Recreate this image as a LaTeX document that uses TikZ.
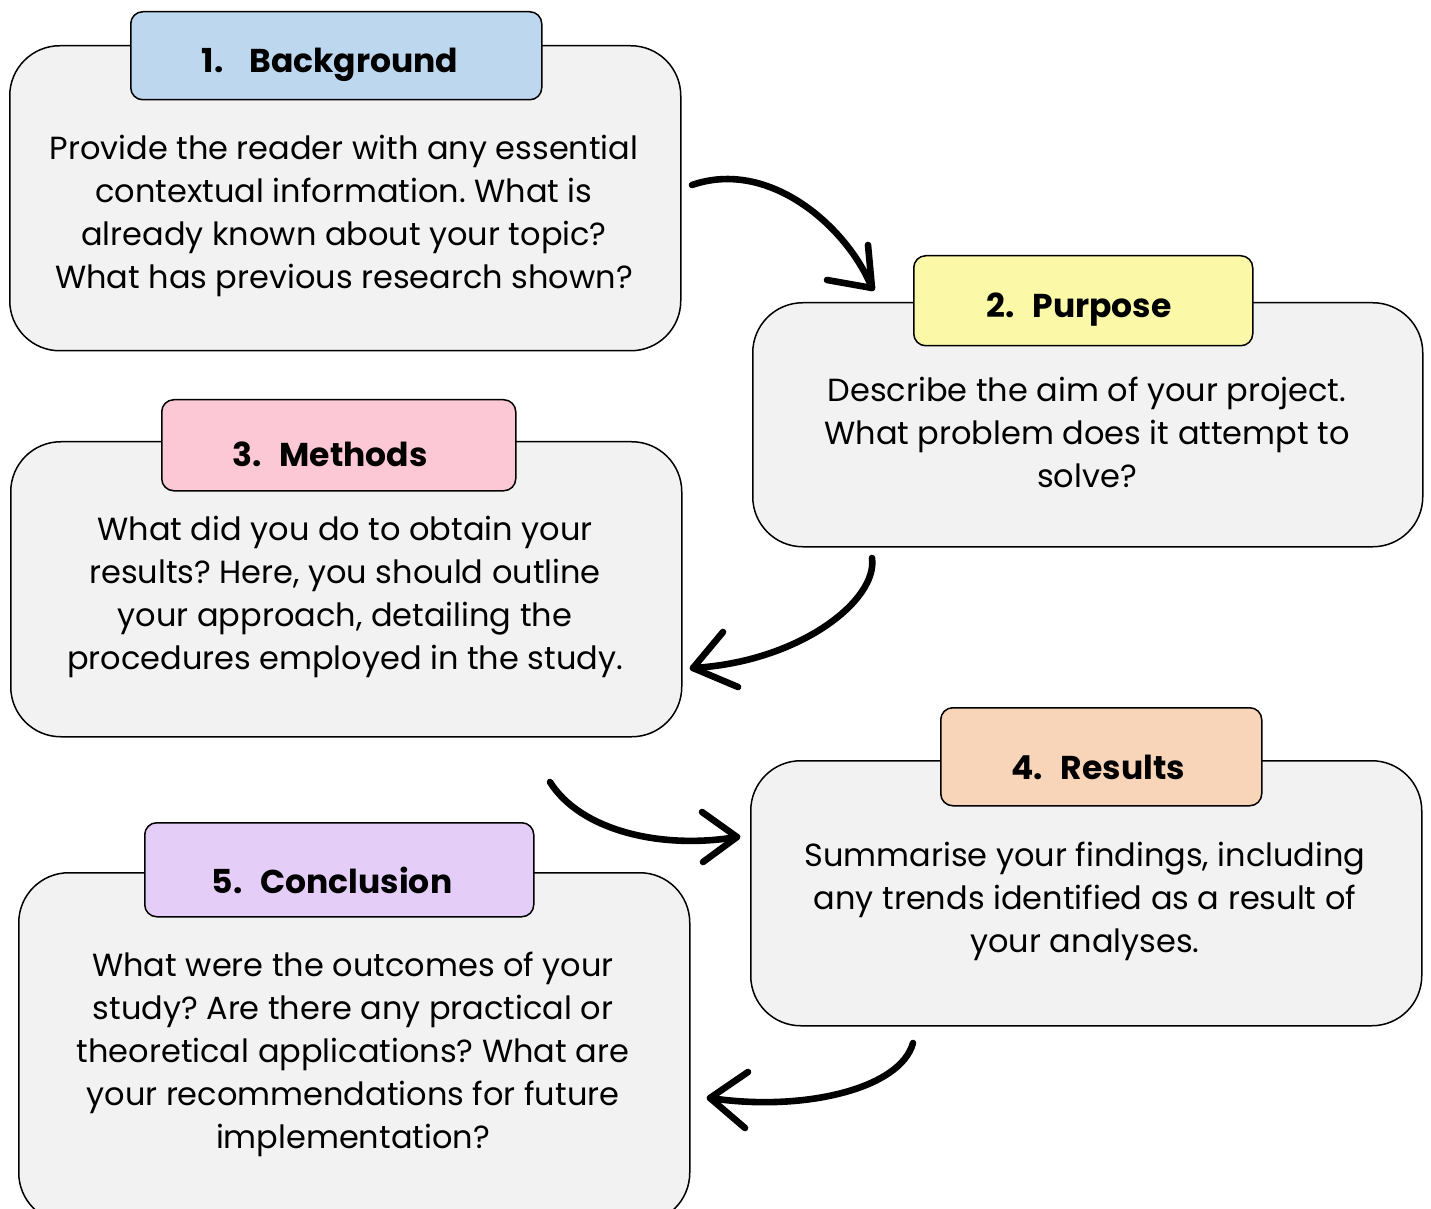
\documentclass[tikz,border=0pt]{standalone}
\usepackage{fontspec}
\setmainfont{Poppins}
\frenchspacing
\definecolor{bodygray}{HTML}{F2F2F2}
\definecolor{hblue}{HTML}{BDD7EE}
\definecolor{hyellow}{HTML}{FBF8A7}
\definecolor{hpink}{HTML}{FCC8D6}
\definecolor{hpeach}{HTML}{F8D4B9}
\definecolor{hlav}{HTML}{E4CDF6}
\begin{document}
\begin{tikzpicture}[x=0.5pt,y=-0.5pt,
  mainbox/.style={draw=black, line width=0.75pt, fill=bodygray, rounded corners=25pt, inner sep=0pt, anchor=north west},
  headbox/.style={draw=black, line width=0.75pt, rounded corners=6pt, inner sep=0pt, anchor=north west},
  titletext/.style={inner sep=0pt, font=\bfseries\fontsize{16.5}{19}\selectfont},
  bodytext/.style={align=center, font=\frenchspacing\fontsize{16}{21.5}\selectfont, inner sep=0pt},
  handarrow/.style={line width=3.3pt, line cap=round, line join=round}]
\clip (0,0) rectangle (1431,1209);
\fill[white] (0,0) rectangle (1431,1209);
% main boxes
\node[mainbox, minimum width=335.5pt, minimum height=152.5pt] (m1) at (9,45) {};
\node[mainbox, minimum width=335pt, minimum height=122pt] (m2) at (752,302) {};
\node[mainbox, minimum width=335.5pt, minimum height=147.5pt] (m3) at (10,441) {};
\node[mainbox, minimum width=335.5pt, minimum height=132.5pt] (m4) at (750,760) {};
\node[mainbox, minimum width=335.5pt, minimum height=175pt] (m5) at (18,872) {};
% headers
\node[headbox, fill=hblue, minimum width=205.5pt, minimum height=44pt] (h1) at (130,11) {};
\node[headbox, fill=hyellow, minimum width=169.5pt, minimum height=45pt] (h2) at (913,255) {};
\node[headbox, fill=hpink, minimum width=177pt, minimum height=45.5pt] (h3) at (161,399) {};
\node[headbox, fill=hpeach, minimum width=160.5pt, minimum height=49pt] (h4) at (940,707) {};
\node[headbox, fill=hlav, minimum width=194.5pt, minimum height=47pt] (h5) at (144,822) {};
% titles
\node[titletext] (ti1) at (330,65) {1.\hspace{13pt}Background};
\node[titletext] (ti2) at (1079,310) {2.\hspace{9pt}Purpose};
\node[titletext] (ti3) at (330,454) {3.\hspace{9pt}Methods};
\node[titletext] (ti4) at (1098,767) {4.\hspace{9pt}Results};
\node[titletext] (ti5) at (332,880) {5.\hspace{9pt}Conclusion};
% body texts
\node[bodytext] (t1) at (344,216) {Provide the reader with any essential\\contextual information. What is\\already known about your topic?\\What has previous research shown?};
\node[bodytext] (t2) at (1087,432) {Describe the aim of your project.\\What problem does it attempt to\\solve?};
\node[bodytext] (t3) at (345,597) {What did you do to obtain your\\results? Here, you should outline\\your approach, detailing the\\procedures employed in the study.};
\node[bodytext] (t4) at (1085,901) {Summarise your findings, including\\any trends identified as a result of\\your analyses.};
\node[bodytext] (t5) at (353,1054) {What were the outcomes of your\\study? Are there any practical or\\theoretical applications? What are\\your recommendations for future\\implementation?};
% arrow coordinates
\coordinate (a1s) at (692,185); \coordinate (a1t) at (872,288);
\coordinate (a1l) at (827,280); \coordinate (a1r) at (868,245);
\coordinate (a2s) at (872,558); \coordinate (a2t) at (693,668);
\coordinate (a2l) at (723,632); \coordinate (a2r) at (738,687);
\coordinate (a3s) at (550,782); \coordinate (a3t) at (737,837);
\coordinate (a3l) at (702,812); \coordinate (a3r) at (703,862);
\coordinate (a4s) at (913,1043); \coordinate (a4t) at (710,1098);
\coordinate (a4l) at (748,1072); \coordinate (a4r) at (745,1128);
% arrows
\draw[handarrow] (a1s) .. controls (770,158) and (848,228) .. (a1t);
\draw[handarrow] (a1l) -- (a1t) -- (a1r);
\draw[handarrow] (a2s) .. controls (878,600) and (800,662) .. (a2t);
\draw[handarrow] (a2l) -- (a2t) -- (a2r);
\draw[handarrow] (a3s) .. controls (580,830) and (660,850) .. (a3t);
\draw[handarrow] (a3l) -- (a3t) -- (a3r);
\draw[handarrow] (a4s) .. controls (900,1090) and (800,1112) .. (a4t);
\draw[handarrow] (a4l) -- (a4t) -- (a4r);
\end{tikzpicture}
\end{document}
